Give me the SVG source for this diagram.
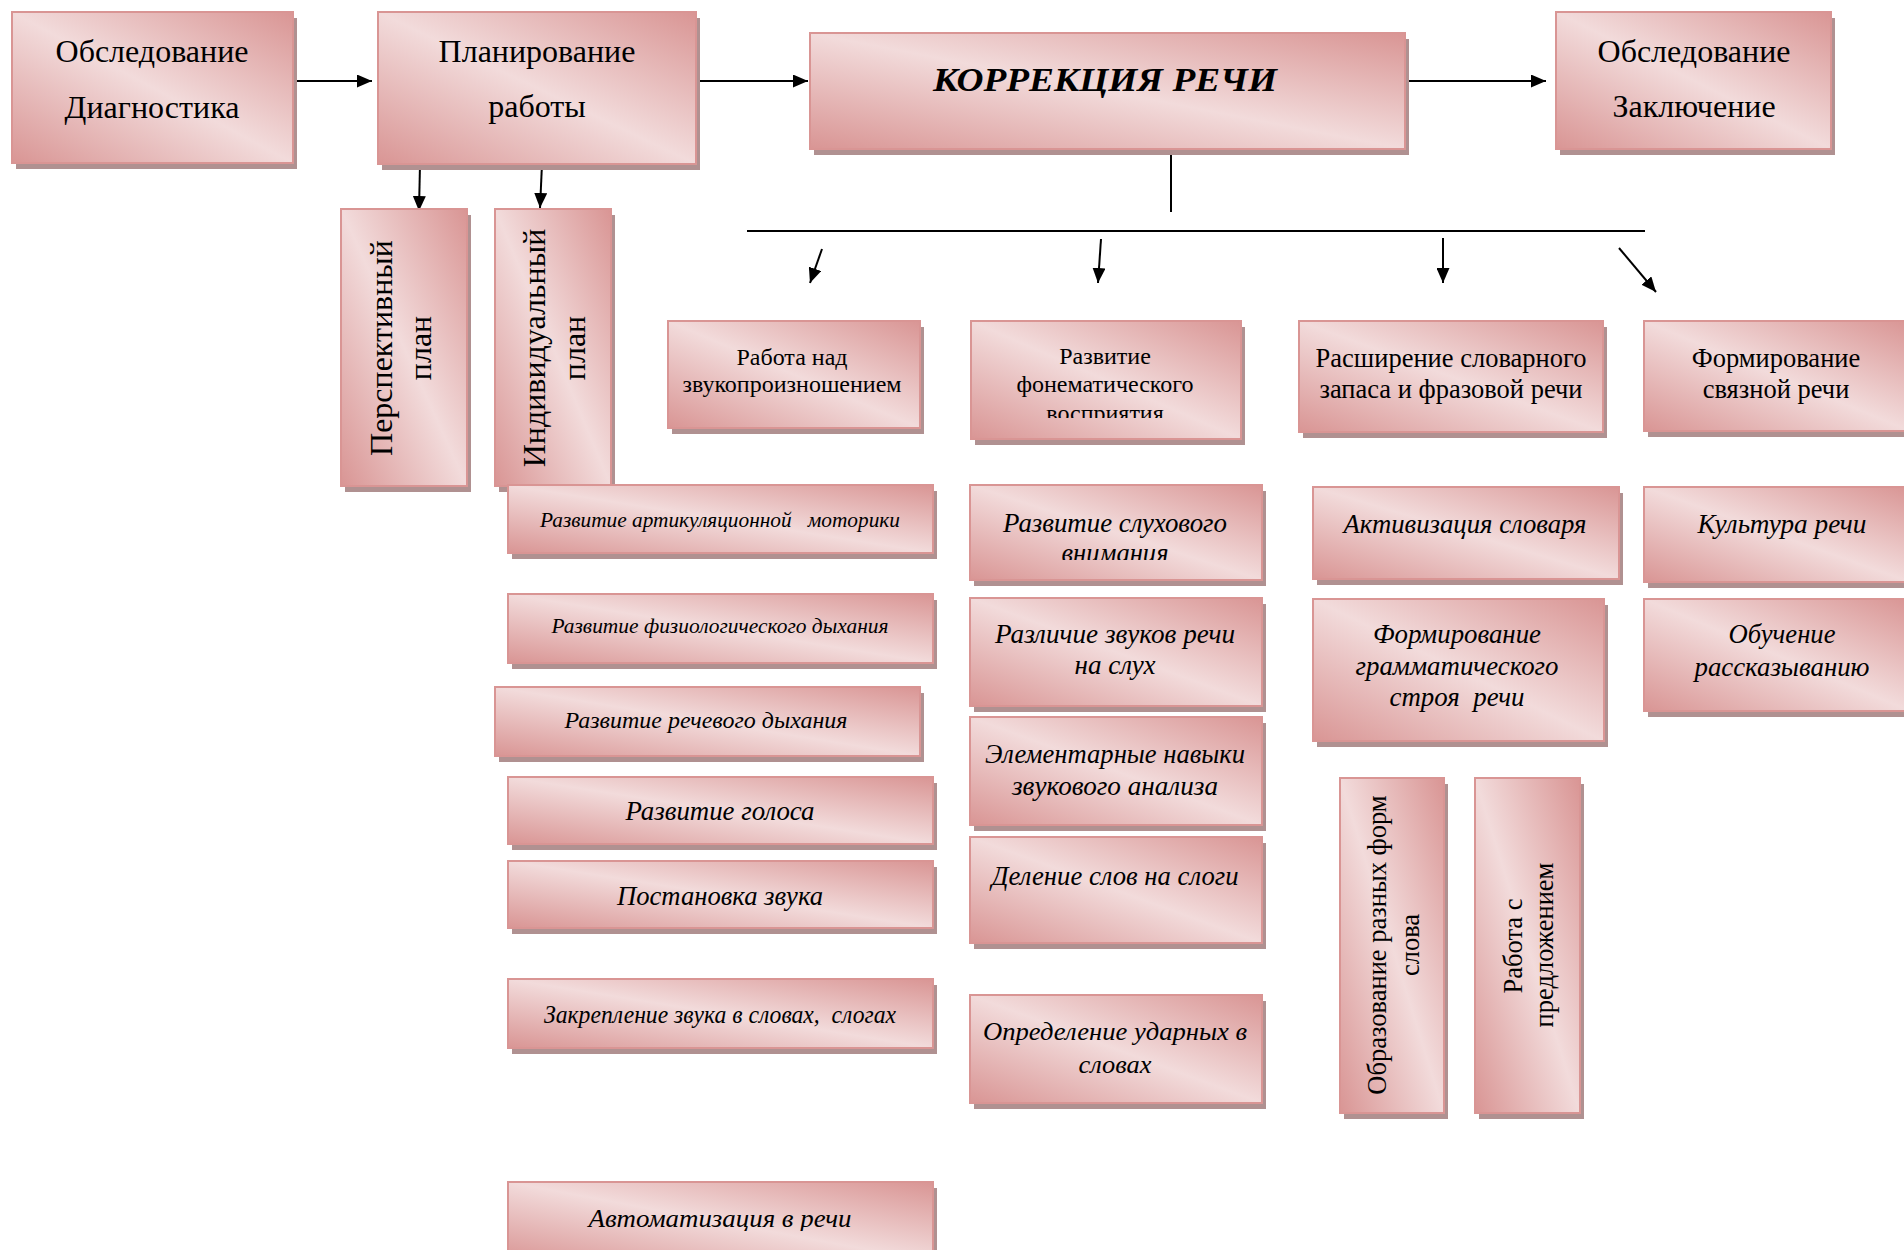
<svg xmlns="http://www.w3.org/2000/svg" width="1904" height="1250" viewBox="0 0 1904 1250">
<style>
.bx{fill:url(#g);stroke:#D99594;stroke-width:2}
.sh{fill:#B09191}
.r{font-family:"Liberation Serif","Times New Roman",serif;fill:#000;text-anchor:middle}
.i{font-style:italic}
.ln{stroke:#000;stroke-width:2;fill:none}
.ar{marker-end:url(#ah)}
</style>
<defs>
<linearGradient id="g" x1="1" y1="0" x2="0" y2="1">
<stop offset="0" stop-color="#D99594"/>
<stop offset="0.5" stop-color="#F2DBDB"/>
<stop offset="1" stop-color="#D99594"/>
</linearGradient>
<marker id="ah" viewBox="0 0 15 13" refX="15" refY="6.5" markerWidth="15" markerHeight="13" markerUnits="userSpaceOnUse" orient="auto">
<path d="M0,0 L15,6.5 L0,13 Z" fill="#000"/>
</marker>
<clipPath id="c8"><rect x="971" y="321" width="270" height="97"/></clipPath>
<clipPath id="c18"><rect x="970" y="485" width="292" height="75"/></clipPath>
<clipPath id="c17"><rect x="508" y="1182" width="425" height="49"/></clipPath>
</defs>
<rect width="1904" height="1250" fill="#fff"/>

<g id="connectors">
<line class="ln ar" x1="293" y1="81" x2="372" y2="81"/>
<line class="ln ar" x1="696" y1="81" x2="808" y2="81"/>
<line class="ln ar" x1="1405" y1="81" x2="1546" y2="81"/>
<line class="ln ar" x1="420" y1="164" x2="419" y2="211"/>
<line class="ln ar" x1="542" y1="164" x2="540" y2="208"/>
<line class="ln" x1="1171" y1="149" x2="1171" y2="212"/>
<line class="ln" x1="747" y1="231" x2="1645" y2="231"/>
<line class="ln ar" x1="822" y1="249" x2="810" y2="283"/>
<line class="ln ar" x1="1101" y1="239" x2="1098" y2="283"/>
<line class="ln ar" x1="1443" y1="238" x2="1443" y2="283"/>
<line class="ln ar" x1="1619" y1="248" x2="1656" y2="292"/>
</g>

<g id="n1"><rect class="sh" x="16" y="18" width="281" height="151"/><rect class="bx" x="12" y="12" width="281" height="151"/>
<text class="r" font-size="32" x="152" y="62">Обследование</text><text class="r" font-size="32" x="152" y="118">Диагностика</text></g>

<g id="n2"><rect class="sh" x="382" y="18" width="318" height="152"/><rect class="bx" x="378" y="12" width="318" height="152"/>
<text class="r" font-size="32" x="537" y="62">Планирование</text><text class="r" font-size="32" x="537" y="117">работы</text></g>

<g id="n3"><rect class="sh" x="814" y="39" width="595" height="116"/><rect class="bx" x="810" y="33" width="595" height="116"/>
<text class="r i" font-size="34" font-weight="bold" x="1105" y="91" textLength="344" lengthAdjust="spacingAndGlyphs">КОРРЕКЦИЯ РЕЧИ</text></g>

<g id="n4"><rect class="sh" x="1560" y="18" width="275" height="137"/><rect class="bx" x="1556" y="12" width="275" height="137"/>
<text class="r" font-size="32" x="1694" y="62">Обследование</text><text class="r" font-size="32" x="1694" y="117">Заключение</text></g>

<g id="n5"><rect class="sh" x="345" y="215" width="126" height="277"/><rect class="bx" x="341" y="209" width="126" height="277"/>
<text class="r" font-size="32" transform="translate(392,348) rotate(-90)">Перспективный</text>
<text class="r" font-size="32" transform="translate(431,348) rotate(-90)">план</text></g>

<g id="n6"><rect class="sh" x="499" y="215" width="116" height="277"/><rect class="bx" x="495" y="209" width="116" height="277"/>
<text class="r" font-size="32" transform="translate(545,348) rotate(-90)">Индивидуальный</text>
<text class="r" font-size="32" transform="translate(585,348) rotate(-90)">план</text></g>

<g id="n7"><rect class="sh" x="672" y="327" width="252" height="107"/><rect class="bx" x="668" y="321" width="252" height="107"/>
<text class="r" font-size="24" x="792" y="365">Работа над</text><text class="r" font-size="24" x="792" y="392">звукопроизношением</text></g>

<g id="n8"><rect class="sh" x="975" y="327" width="270" height="118"/><rect class="bx" x="971" y="321" width="270" height="118"/>
<text class="r" font-size="24" x="1105" y="364">Развитие</text><text class="r" font-size="24" x="1105" y="392">фонематического</text>
<text class="r" font-size="24" x="1105" y="421" clip-path="url(#c8)">восприятия</text></g>

<g id="n9"><rect class="sh" x="1303" y="327" width="304" height="111"/><rect class="bx" x="1299" y="321" width="304" height="111"/>
<text class="r" font-size="26.5" x="1451" y="367">Расширение словарного</text><text class="r" font-size="26.5" x="1451" y="398">запаса и фразовой речи</text></g>

<g id="n10"><rect class="sh" x="1648" y="327" width="266" height="110"/><rect class="bx" x="1644" y="321" width="266" height="110"/>
<text class="r" font-size="26.5" x="1776" y="367">Формирование</text><text class="r" font-size="26.5" x="1776" y="398">связной речи</text></g>

<g id="n11"><rect class="sh" x="512" y="491" width="425" height="68"/><rect class="bx" x="508" y="485" width="425" height="68"/>
<text class="r i" font-size="21" x="720" y="527" textLength="360" lengthAdjust="spacingAndGlyphs" xml:space="preserve">Развитие артикуляционной   моторики</text></g>

<g id="n12"><rect class="sh" x="512" y="600" width="425" height="69"/><rect class="bx" x="508" y="594" width="425" height="69"/>
<text class="r i" font-size="21" x="720" y="633" textLength="337" lengthAdjust="spacingAndGlyphs">Развитие физиологического дыхания</text></g>

<g id="n13"><rect class="sh" x="499" y="693" width="425" height="69"/><rect class="bx" x="495" y="687" width="425" height="69"/>
<text class="r i" font-size="24" x="706" y="728" textLength="283" lengthAdjust="spacingAndGlyphs">Развитие речевого дыхания</text></g>

<g id="n14"><rect class="sh" x="512" y="783" width="425" height="67"/><rect class="bx" x="508" y="777" width="425" height="67"/>
<text class="r i" font-size="27" x="720" y="820" textLength="189" lengthAdjust="spacingAndGlyphs">Развитие голоса</text></g>

<g id="n15"><rect class="sh" x="512" y="867" width="425" height="67"/><rect class="bx" x="508" y="861" width="425" height="67"/>
<text class="r i" font-size="27" x="720" y="905" textLength="206" lengthAdjust="spacingAndGlyphs">Постановка звука</text></g>

<g id="n16"><rect class="sh" x="512" y="985" width="425" height="69"/><rect class="bx" x="508" y="979" width="425" height="69"/>
<text class="r i" font-size="26" x="720" y="1023" textLength="352" lengthAdjust="spacingAndGlyphs" xml:space="preserve">Закрепление звука в словах,  слогах</text></g>

<g id="n17"><rect class="sh" x="512" y="1188" width="425" height="80"/><rect class="bx" x="508" y="1182" width="425" height="80"/>
<text class="r i" font-size="26" x="720" y="1227" textLength="263" lengthAdjust="spacingAndGlyphs" clip-path="url(#c17)">Автоматизация в речи</text></g>

<g id="n18"><rect class="sh" x="974" y="491" width="292" height="95"/><rect class="bx" x="970" y="485" width="292" height="95"/>
<text class="r i" font-size="27" x="1115" y="532" textLength="224" lengthAdjust="spacingAndGlyphs">Развитие слухового</text>
<text class="r i" font-size="27" x="1115" y="562" textLength="107" lengthAdjust="spacingAndGlyphs" clip-path="url(#c18)">внимания</text></g>

<g id="n19"><rect class="sh" x="974" y="604" width="292" height="108"/><rect class="bx" x="970" y="598" width="292" height="108"/>
<text class="r i" font-size="27" x="1115" y="643" textLength="240" lengthAdjust="spacingAndGlyphs">Различие звуков речи</text>
<text class="r i" font-size="27" x="1115" y="674" textLength="81" lengthAdjust="spacingAndGlyphs">на слух</text></g>

<g id="n20"><rect class="sh" x="974" y="723" width="292" height="108"/><rect class="bx" x="970" y="717" width="292" height="108"/>
<text class="r i" font-size="27" x="1115" y="763" textLength="260" lengthAdjust="spacingAndGlyphs">Элементарные навыки</text>
<text class="r i" font-size="27" x="1115" y="795" textLength="206" lengthAdjust="spacingAndGlyphs">звукового анализа</text></g>

<g id="n21"><rect class="sh" x="974" y="843" width="292" height="106"/><rect class="bx" x="970" y="837" width="292" height="106"/>
<text class="r i" font-size="27" x="1115" y="885" textLength="247" lengthAdjust="spacingAndGlyphs">Деление слов на слоги</text></g>

<g id="n22"><rect class="sh" x="974" y="1001" width="292" height="108"/><rect class="bx" x="970" y="995" width="292" height="108"/>
<text class="r i" font-size="26" x="1115" y="1040" textLength="264" lengthAdjust="spacingAndGlyphs">Определение ударных в</text>
<text class="r i" font-size="26" x="1115" y="1073" textLength="73" lengthAdjust="spacingAndGlyphs">словах</text></g>

<g id="n23"><rect class="sh" x="1317" y="493" width="306" height="92"/><rect class="bx" x="1313" y="487" width="306" height="92"/>
<text class="r i" font-size="27" x="1465" y="533" textLength="243" lengthAdjust="spacingAndGlyphs">Активизация словаря</text></g>

<g id="n24"><rect class="sh" x="1648" y="493" width="266" height="95"/><rect class="bx" x="1644" y="487" width="266" height="95"/>
<text class="r i" font-size="27" x="1782" y="533" textLength="169" lengthAdjust="spacingAndGlyphs">Культура речи</text></g>

<g id="n25"><rect class="sh" x="1317" y="605" width="291" height="142"/><rect class="bx" x="1313" y="599" width="291" height="142"/>
<text class="r i" font-size="27" x="1457" y="643" textLength="168" lengthAdjust="spacingAndGlyphs">Формирование</text>
<text class="r i" font-size="27" x="1457" y="675" textLength="203" lengthAdjust="spacingAndGlyphs">грамматического</text>
<text class="r i" font-size="27" x="1457" y="706" textLength="135" lengthAdjust="spacingAndGlyphs" xml:space="preserve">строя  речи</text></g>

<g id="n26"><rect class="sh" x="1648" y="605" width="266" height="112"/><rect class="bx" x="1644" y="599" width="266" height="112"/>
<text class="r i" font-size="27" x="1782" y="643" textLength="107" lengthAdjust="spacingAndGlyphs">Обучение</text>
<text class="r i" font-size="27" x="1782" y="676" textLength="175" lengthAdjust="spacingAndGlyphs">рассказыванию</text></g>

<g id="n27"><rect class="sh" x="1344" y="784" width="104" height="335"/><rect class="bx" x="1340" y="778" width="104" height="335"/>
<text class="r" font-size="26.5" transform="translate(1386,945) rotate(-90)">Образование разных форм</text>
<text class="r" font-size="26.5" transform="translate(1419,945) rotate(-90)">слова</text></g>

<g id="n28"><rect class="sh" x="1479" y="784" width="105" height="335"/><rect class="bx" x="1475" y="778" width="105" height="335"/>
<text class="r" font-size="26.5" transform="translate(1522,946) rotate(-90)">Работа с</text>
<text class="r" font-size="26.5" transform="translate(1553,945) rotate(-90)">предложением</text></g>
</svg>
